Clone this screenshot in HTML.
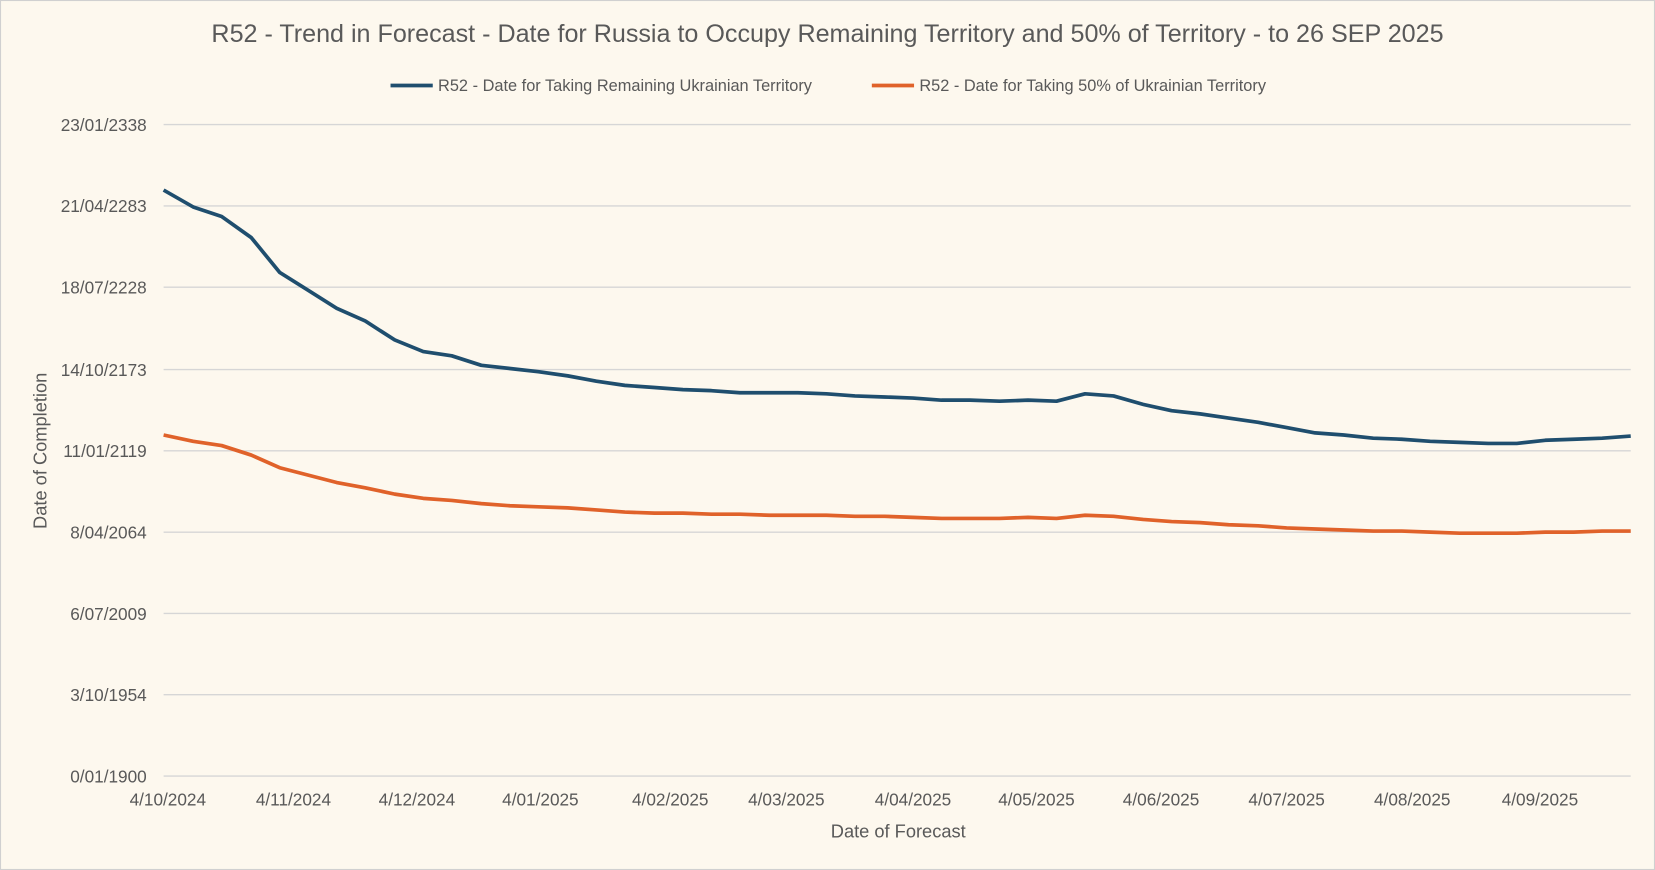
<!DOCTYPE html>
<html><head><meta charset="utf-8"><style>
html,body{margin:0;padding:0;background:#fdf8ee;}
svg{display:block;}
text{font-family:"Liberation Sans",sans-serif;fill:#595959;}
</style></head><body>
<svg width="1655" height="870" viewBox="0 0 1568 824" preserveAspectRatio="none">
<rect x="0.5" y="0.5" width="1567" height="823" fill="#fdf8ee" stroke="#d0d0d0"/>
<text x="784" y="40" font-size="23.8" text-anchor="middle">R52 - Trend in Forecast - Date for Russia to Occupy Remaining Territory and 50% of Territory - to 26 SEP 2025</text>
<line x1="370" y1="81" x2="410" y2="81" stroke="#1f4e6e" stroke-width="3.5"/>
<text x="415" y="86" font-size="15.5">R52 - Date for Taking Remaining Ukrainian Territory</text>
<line x1="826" y1="81" x2="866" y2="81" stroke="#e0622a" stroke-width="3.5"/>
<text x="871" y="86" font-size="15.5">R52 - Date for Taking  50% of Ukrainian Territory</text>
<g stroke="#d6d6d6" stroke-width="1.3">
<line x1="155" y1="118" x2="1545" y2="118"/><line x1="155" y1="195" x2="1545" y2="195"/>
<line x1="155" y1="272" x2="1545" y2="272"/><line x1="155" y1="350" x2="1545" y2="350"/>
<line x1="155" y1="427" x2="1545" y2="427"/><line x1="155" y1="504" x2="1545" y2="504"/>
<line x1="155" y1="581" x2="1545" y2="581"/><line x1="155" y1="658" x2="1545" y2="658"/>
<line x1="155" y1="735" x2="1545" y2="735"/>
</g>
<g font-size="16.3" text-anchor="end">
<text x="139" y="124">23/01/2338</text><text x="139" y="201">21/04/2283</text>
<text x="139" y="278">18/07/2228</text><text x="139" y="356">14/10/2173</text>
<text x="139" y="433">11/01/2119</text><text x="139" y="510">8/04/2064</text>
<text x="139" y="587">6/07/2009</text><text x="139" y="664">3/10/1954</text>
<text x="139" y="741">0/01/1900</text>
</g>
<g font-size="16.3" text-anchor="middle">
<text x="159" y="763">4/10/2024</text><text x="278" y="763">4/11/2024</text>
<text x="395" y="763">4/12/2024</text><text x="512" y="763">4/01/2025</text>
<text x="635" y="763">4/02/2025</text><text x="745" y="763">4/03/2025</text>
<text x="865" y="763">4/04/2025</text><text x="982" y="763">4/05/2025</text>
<text x="1100" y="763">4/06/2025</text><text x="1219" y="763">4/07/2025</text>
<text x="1338" y="763">4/08/2025</text><text x="1459" y="763">4/09/2025</text>
</g>
<text x="851" y="793" font-size="17.3" text-anchor="middle">Date of Forecast</text>
<text x="0" y="0" font-size="17.3" text-anchor="middle" transform="translate(44,427) rotate(-90)">Date of Completion</text>
<polyline fill="none" stroke="#1f4e6e" stroke-width="3.5" stroke-linejoin="round" points="155,180 183,196 210,205 238,225 265,258 292,275 319,292 346,304 374,322 401,333 428,337 456,346 483,349 510,352 538,356 565,361 592,365 620,367 647,369 674,370 701,372 729,372 756,372 783,373 810,375 838,376 865,377 892,379 919,379 947,380 974,379 1001,380 1028,373 1055,375 1083,383 1110,389 1137,392 1164,396 1192,400 1219,405 1246,410 1273,412 1301,415 1328,416 1355,418 1383,419 1410,420 1437,420 1464,417 1491,416 1518,415 1545,413"/>
<polyline fill="none" stroke="#e0622a" stroke-width="3.5" stroke-linejoin="round" points="155,412 183,418 210,422 238,431 265,443 292,450 319,457 346,462 374,468 401,472 428,474 456,477 483,479 510,480 538,481 565,483 592,485 620,486 647,486 674,487 701,487 729,488 756,488 783,488 810,489 838,489 865,490 892,491 919,491 947,491 974,490 1001,491 1028,488 1055,489 1083,492 1110,494 1137,495 1164,497 1192,498 1219,500 1246,501 1273,502 1301,503 1328,503 1355,504 1383,505 1410,505 1437,505 1464,504 1491,504 1518,503 1545,503"/>
</svg>
</body></html>
